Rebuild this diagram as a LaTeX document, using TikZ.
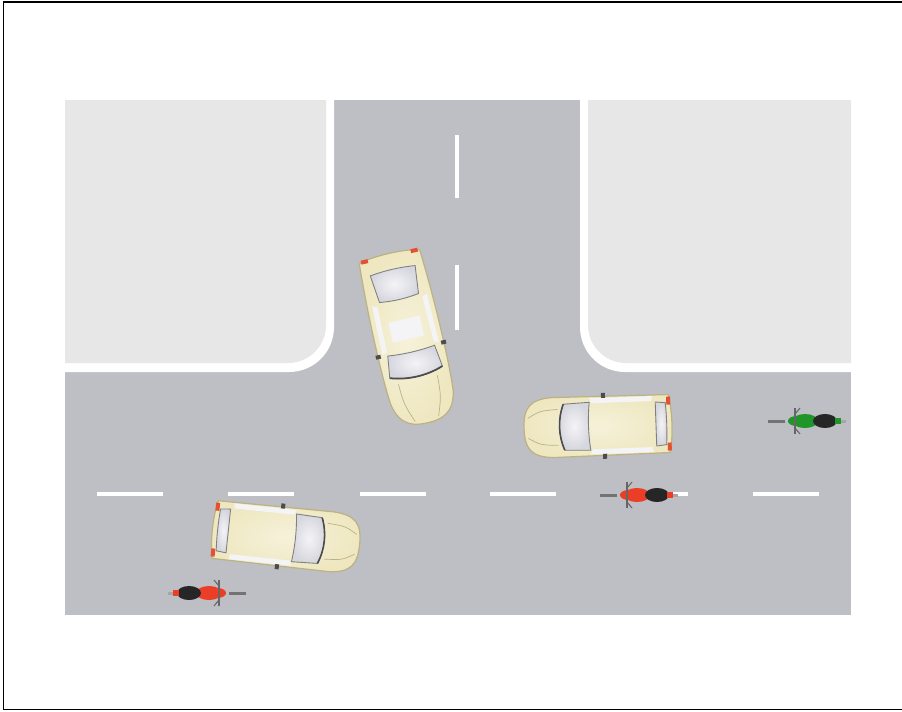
\documentclass[tikz,border=0pt]{standalone}
\usepackage{xcolor}

\definecolor{jalan}{RGB}{190,191,196}
\definecolor{blok}{RGB}{231,231,232}
\definecolor{krem}{RGB}{238,231,192}
\definecolor{kremterang}{RGB}{246,242,218}
\definecolor{kremgelap}{RGB}{188,178,132}
\definecolor{kacaputih}{RGB}{244,244,247}
\definecolor{kacagelap}{RGB}{214,214,222}
\definecolor{lampu}{RGB}{226,82,50}
\definecolor{motmerah}{RGB}{235,62,38}
\definecolor{motijo}{RGB}{32,150,42}

\tikzset{
  bodi/.style={draw=kremgelap, line width=0.7pt, inner color=kremterang, outer color=krem},
  kaca/.style={draw=black!50, line width=0.5pt, inner color=kacaputih, outer color=kacagelap},
  marka/.style={fill=white},
  % sedan, depan ke arah +x
  pics/sedan/.style={code={
    \shadedraw[bodi] (-82,-31) .. controls (-87,-20) and (-87,20) .. (-82,31)
      .. controls (-40,34) and (30,35) .. (62,32)
      .. controls (86,28) and (88,12) .. (88,0)
      .. controls (88,-12) and (86,-28) .. (62,-32)
      .. controls (30,-35) and (-40,-34) .. cycle;
    \fill[lampu] (-85,-29) rectangle (-81,-22);
    \fill[lampu] (-85,22) rectangle (-81,29);
    \shadedraw[kaca] (-68,-23) .. controls (-70,-8) and (-70,8) .. (-68,23)
      -- (-40,20) .. controls (-38,6) and (-38,-6) .. (-40,-20) -- cycle;
    \fill[kacaputih] (-38,-28) -- (12,-29) -- (10,-24) -- (-36,-23) -- cycle;
    \fill[kacaputih] (-38,28) -- (12,29) -- (10,24) -- (-36,23) -- cycle;
    \fill[kacaputih] (-18,-16) rectangle (2,16);
    \shadedraw[kaca] (14,-24) .. controls (16,-8) and (16,8) .. (14,24)
      -- (36,27) .. controls (42,10) and (42,-10) .. (36,-27) -- cycle;
    \draw[black!70, line width=1pt] (36,27) .. controls (42,10) and (42,-10) .. (36,-27);
    \fill[black!70] (11,-31) rectangle (15,-36);
    \fill[black!70] (11,31) rectangle (15,36);
    \draw[kremgelap, line width=0.4pt] (44,-20) .. controls (65,-19) .. (84,-12);
    \draw[kremgelap, line width=0.4pt] (44,20) .. controls (65,19) .. (84,12);
  }},
  % hatchback, depan ke arah +x
  pics/hatchback/.style={code={
    \shadedraw[bodi] (-71,-29) .. controls (-75,-15) and (-75,15) .. (-71,29)
      -- (45,30) .. controls (68,29) and (74,20) .. (74,0)
      .. controls (74,-20) and (68,-29) .. (45,-30) -- cycle;
    \fill[lampu] (-73,-27) rectangle (-69,-19);
    \fill[lampu] (-73,19) rectangle (-69,27);
    \shadedraw[kaca] (-68,-21) .. controls (-69,-7) and (-69,7) .. (-68,21)
      -- (-58,22) -- (-58,-22) -- cycle;
    \fill[kacaputih] (-55,-28) -- (8,-28) -- (6,-23) -- (-54,-23) -- cycle;
    \fill[kacaputih] (-55,28) -- (8,28) -- (6,23) -- (-54,23) -- cycle;
    \shadedraw[kaca] (8,-24) .. controls (10,-8) and (10,8) .. (8,24)
      -- (34,23) .. controls (40,8) and (40,-8) .. (34,-23) -- cycle;
    \draw[black!70, line width=0.9pt] (34,23) .. controls (40,8) and (40,-8) .. (34,-23);
    \fill[black!70] (-8,-33) rectangle (-4,-28);
    \fill[black!70] (-8,28) rectangle (-4,33);
    \draw[kremgelap, line width=0.4pt] (40,-18) .. controls (58,-17) .. (70,-10);
    \draw[kremgelap, line width=0.4pt] (40,18) .. controls (58,17) .. (70,10);
  }},
  % motor dilihat dari atas, warna sebagai argumen
  pics/motor/.style={code={
    \fill[black!55] (22,-1.5) rectangle (39,1.5);
    \fill[#1] (10,-5) .. controls (22,-5) and (22,5) .. (10,5) -- cycle;
    \fill[#1] (2,0) ellipse (13 and 7);
    \fill[black!85] (-18,0) ellipse (12 and 7);
    \fill[#1] (-34,-3) rectangle (-28,3);
    \fill[black!35] (-39,-1.5) rectangle (-34,1.5);
    \draw[black!60, line width=1pt] (12,-13) -- (12,13);
    \draw[black!60, line width=0.6pt] (12,-7) -- (7,-13) (12,7) -- (7,13);
  }},
}

\begin{document}
\begin{tikzpicture}[x=0.02cm, y=-0.02cm]
\useasboundingbox (0,0) rectangle (902,711);

% bingkai
\draw[line width=1.1pt] (902,2) -- (3.5,2) -- (3.5,709.5) -- (902,709.5);

% jalan
\fill[jalan] (65,100) rectangle (851,615);

% --- blok kiri atas ---
\fill[white] (65,100) -- (334,100) -- (334,327)
  .. controls (334,352) and (314,372) .. (289,372) -- (65,372) -- cycle;
\fill[blok] (65,100) -- (326,100) -- (326,325)
  .. controls (326,346) and (309,363) .. (288,363) -- (65,363) -- cycle;

% --- blok kanan atas ---
\fill[white] (851,100) -- (580,100) -- (580,327)
  .. controls (580,352) and (600,372) .. (625,372) -- (851,372) -- cycle;
\fill[blok] (851,100) -- (588,100) -- (588,325)
  .. controls (588,346) and (605,363) .. (626,363) -- (851,363) -- cycle;

% marka tengah
\fill[marka] (455,135) rectangle (459,198);
\fill[marka] (455,265) rectangle (459,330);
\foreach \x in {97,228,360,490,622,753}
  \fill[marka] (\x,492) rectangle (\x+66,496);

% kendaraan
\pic[rotate=-77] at (408,337) {sedan};
\pic[rotate=182] at (598,426) {hatchback};
\pic[rotate=-6] at (286,537) {hatchback};
\pic at (207,593) {motor=motmerah};
\pic[rotate=180] at (639,495) {motor=motmerah};
\pic[rotate=180] at (807,421) {motor=motijo};

\end{tikzpicture}
\end{document}
